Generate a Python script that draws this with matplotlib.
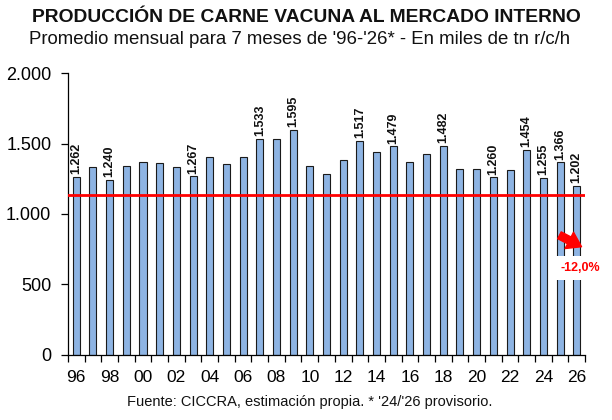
import matplotlib.pyplot as plt
import matplotlib as mpl
from matplotlib.patches import FancyArrowPatch
from matplotlib.ticker import FuncFormatter

mpl.rcParams["font.family"] = ["Liberation Sans", "DejaVu Sans"]

# promedio mensual 7 meses, miles de tn r/c/h
years = list(range(1996, 2027))
values = [1262, 1334, 1240, 1339, 1367, 1360, 1332, 1267, 1403, 1358,
          1403, 1533, 1535, 1595, 1341, 1282, 1382, 1517, 1441, 1479,
          1367, 1429, 1482, 1322, 1320, 1260, 1311, 1454, 1255, 1366,
          1202]
labeled_years = [1996, 1998, 2003, 2007, 2009, 2013, 2015, 2018, 2021,
                 2023, 2024, 2025, 2026]
ref_level = 1135
change_label = "-12,0%"

BAR = "#8EB4E3"
RED = "#FF0000"
H = 420

fig = plt.figure(figsize=(6.12, 4.2), dpi=100)
ax = fig.add_axes([0.111, 0.155, 0.845, 0.671])

x = list(range(len(years)))
ax.bar(x, values, width=0.42, color=BAR, edgecolor="#1A1A1A", linewidth=0.8, zorder=2)
ax.axhline(ref_level, color=RED, linewidth=2.0, zorder=3)

for i, (yr, v) in enumerate(zip(years, values)):
    if yr in labeled_years:
        s = f"{v:,}".replace(",", ".")
        ax.annotate(s, (i, v), xytext=(0, 2), textcoords="offset points",
                    rotation=90, ha="center", va="bottom", fontsize=9,
                    fontweight="bold", color="#111111", zorder=4)

ax.set_xlim(-0.5, len(years) - 0.5)
ax.set_ylim(0, 2000)
ax.set_yticks([0, 500, 1000, 1500, 2000])
ax.yaxis.set_major_formatter(FuncFormatter(lambda v, p: f"{int(v):,}".replace(",", ".")))

ax.set_xticks([i for i in x if i % 2 == 0])
ax.set_xticklabels([f"{years[i] % 100:02d}" for i in x if i % 2 == 0])
ax.set_xticks([i - 0.5 for i in range(len(years) + 1)], minor=True)
ax.tick_params(axis="x", which="major", length=0, labelsize=12.5, pad=11)
ax.tick_params(axis="x", which="minor", length=5, width=0.9, direction="out")
ax.tick_params(axis="y", length=5, width=0.9, direction="out", labelsize=13, pad=7)

for side in ("top", "right"):
    ax.spines[side].set_visible(False)
for side in ("left", "bottom"):
    ax.spines[side].set_linewidth(0.9)

# flecha de variacion
arr = FancyArrowPatch((557, H - 234), (584, H - 248), transform=None,
                      arrowstyle="simple,head_length=0.9,head_width=1.2,tail_width=0.5",
                      mutation_scale=11, color=RED, zorder=5)
fig.patches.append(arr)
fig.text(580 / 612, 1 - 268 / H, change_label, ha="center", va="center",
         fontsize=9, fontweight="bold", color=RED,
         bbox=dict(boxstyle="square,pad=0.5", facecolor="white", edgecolor="none"))

fig.text(0.5, 1 - 18 / H, "PRODUCCIÓN DE CARNE VACUNA AL MERCADO INTERNO",
         ha="center", va="center", fontsize=13.9, fontweight="bold", color="#111111")
fig.text(0.49, 1 - 40 / H, "Promedio mensual para 7 meses de '96-'26* - En miles de tn r/c/h",
         ha="center", va="center", fontsize=13.4, color="#111111")
fig.text(0.506, 1 - 402 / H, "Fuente: CICCRA, estimación propia. * '24/'26 provisorio.",
         ha="center", va="center", fontsize=10.5, color="#111111")

fig.savefig("out.png", dpi=100, facecolor="white")
